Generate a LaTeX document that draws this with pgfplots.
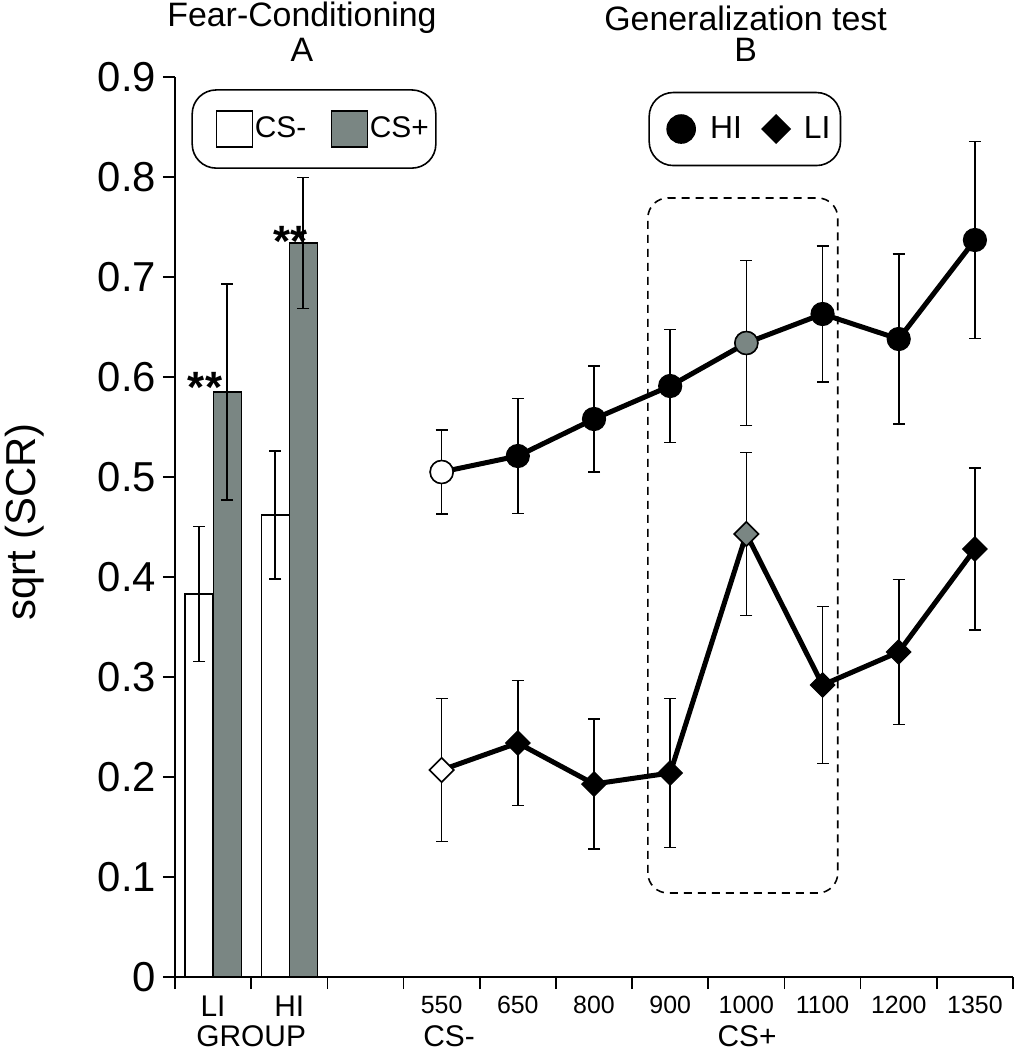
\documentclass[border=0pt]{standalone}
\usepackage{pgfplots}
\pgfplotsset{compat=1.18}
\usepackage{fontspec}
\setmainfont{Liberation Sans}
\definecolor{barg}{RGB}{122,134,131}
\pgfplotsset{myax/.style={width=419bp, height=450bp, scale only axis, xmin=-0.5, xmax=10.5, ymin=0, ymax=0.9, clip=false},
  myerr/.style={error bars/.cd, y dir=both, y explicit, error bar style={line width=0.8pt, black, draw=black, solid}, error mark options={line width=0.8pt, black, mark size=3bp, rotate=90}}}
\begin{document}
\begin{tikzpicture}
\useasboundingbox (-87.5bp,-36.5bp) rectangle (420.5bp,488.5bp);
\begin{axis}[myax,
  axis x line*=bottom, axis y line*=left,
  axis line style={line width=0.8pt},
  tick align=outside,
  ytick={0,0.1,0.2,0.3,0.4,0.5,0.6,0.7,0.8,0.9},
  yticklabel style={font=\fontsize{21}{21}\selectfont, /pgf/number format/.cd, fixed, precision=1, assume math mode=true},
  major tick length=6bp,
  minor tick length=6bp,
  xtick={0,1,2,3,4,5,6,7,8,9,10},
  xticklabels={{\fontsize{15}{15}\selectfont LI},{\fontsize{15}{15}\selectfont HI},,550,650,800,900,1000,1100,1200,1350},
  xticklabel style={font=\fontsize{12.5}{12.5}\selectfont, /pgf/number format/assume math mode=true},
  minor xtick={-0.5,0.5,1.5,2.5,3.5,4.5,5.5,6.5,7.5,8.5,9.5,10.5},
  tick style={line width=0.8pt, black},
  major x tick style={draw=none},
  legend style={at={(0.1659,0.9422)}, anchor=center, draw=black, line width=0.8pt, rounded corners=12bp,
    font=\fontsize{15}{15}\selectfont, inner xsep=2.5bp, inner ysep=10.25bp, nodes={inner xsep=1bp, inner ysep=0bp}},
  legend columns=2,
  legend cell align=left,
]
\addplot[ybar, bar width=14bp, bar shift=0pt, fill=white, draw=black, line width=0.6pt,
  legend image code/.code={\path[draw=none, fill=none] (-9.5bp,0bp) -- (0bp,0bp); \draw[sharp corners, fill=white,draw=black,line width=0.6pt] (0bp,-9bp) rectangle (18bp,9bp);}]
  coordinates {(-0.184,0.383) (0.816,0.462)};
\addlegendentry{CS-}
\addplot[ybar, bar width=14bp, bar shift=0pt, fill=barg, draw=black, line width=0.6pt,
  legend image code/.code={\path[draw=none, fill=none] (-11.5bp,0bp) -- (0bp,0bp); \draw[sharp corners, fill=barg,draw=black,line width=0.6pt] (0bp,-9bp) rectangle (18bp,9bp);}]
  coordinates {(0.184,0.585) (1.184,0.734)};
\addlegendentry{CS+}

\addplot[forget plot, draw=none, mark=none, myerr]
  coordinates {(-0.184,0.383) +- (0,0.0675) (0.816,0.462) +- (0,0.064)};
\addplot[forget plot, draw=none, mark=none, myerr]
  coordinates {(0.184,0.585) +- (0,0.108) (1.184,0.734) +- (0,0.0655)};

\node[font=\fontsize{22}{22}\selectfont\bfseries] at (axis cs:-0.106,0.590) {**};
\node[font=\fontsize{22}{22}\selectfont\bfseries] at (axis cs:1.022,0.736) {**};

\node[font=\fontsize{17}{17}\selectfont] at (axis cs:1.167,0.959) {Fear-Conditioning};
\node[font=\fontsize{17}{17}\selectfont] at (axis cs:1.167,0.927) {A};
\node[font=\fontsize{17}{17}\selectfont] at (axis cs:6.99,0.959) {Generalization test};
\node[font=\fontsize{17}{17}\selectfont] at (axis cs:6.99,0.927) {B};

\node[font=\fontsize{15}{15}\selectfont] at (axis cs:0.5,-0.059) {GROUP};
\node[font=\fontsize{15}{15}\selectfont, anchor=west, inner sep=0pt] at (axis cs:2.755,-0.059) {CS-};
\node[font=\fontsize{15}{15}\selectfont] at (axis cs:7.01,-0.059) {CS+};
\node[font=\fontsize{21}{21}\selectfont, rotate=90] at (axis cs:-2.47,0.455) {sqrt (SCR)};
\end{axis}

\begin{axis}[myax, hide axis,
  legend style={at={(0.680,0.9422)}, anchor=center, draw=black, line width=0.8pt, rounded corners=12bp,
    font=\fontsize{16}{16}\selectfont, inner xsep=4bp, inner ysep=11.25bp, nodes={inner xsep=1bp, inner ysep=0bp}},
  legend columns=2,
]
\addlegendimage{legend image code/.code={\path[draw=none, fill=none] (-5bp,0bp) -- (0bp,0bp); \draw[sharp corners, only marks, mark=*, mark size=7bp, black] plot coordinates {(7bp,0bp)};}}
\addlegendentry{\hspace{6.5bp}HI}
\addlegendimage{legend image code/.code={\path[draw=none, fill=none] (-9bp,0bp) -- (0bp,0bp); \draw[sharp corners, only marks, mark=square*, mark options={rotate=45}, mark size=4.9bp, black] plot coordinates {(7bp,0bp)};}}
\addlegendentry{\hspace{6bp}LI}

% error bars
\addplot[forget plot, draw=none, mark=none, myerr]
  coordinates {(3,0.505) +- (0,0.042) (4,0.521) +- (0,0.0575) (5,0.558) +- (0,0.053) (6,0.591) +- (0,0.0565)
  (7,0.634) +- (0,0.0825) (8,0.663) +- (0,0.068) (9,0.638) +- (0,0.085) (10,0.737) +- (0,0.0985)};
\addplot[forget plot, draw=none, mark=none, myerr]
  coordinates {(3,0.207) +- (0,0.0715) (4,0.234) +- (0,0.0625) (5,0.193) +- (0,0.065) (6,0.204) +- (0,0.0745)
  (7,0.443) +- (0,0.0815) (8,0.292) +- (0,0.0785) (9,0.325) +- (0,0.0725) (10,0.428) +- (0,0.081)};

% HI line
\addplot[forget plot, black, line width=2.5bp, mark=*, mark size=5.75bp, mark options={solid, fill=black, line width=0.6pt}]
  coordinates {(3,0.505) (4,0.521) (5,0.558) (6,0.591) (7,0.634) (8,0.663) (9,0.638) (10,0.737)};
\addplot[forget plot, only marks, mark=*, mark size=5.75bp, mark options={fill=white, draw=black, line width=0.8pt}]
  coordinates {(3,0.505)};
\addplot[forget plot, only marks, mark=*, mark size=5.75bp, mark options={fill=barg, draw=black, line width=0.8pt}]
  coordinates {(7,0.634)};

% LI line
\addplot[forget plot, black, line width=2.5bp, mark=square*, mark size=4.3bp, mark options={solid, rotate=45, fill=black, line width=0.6pt}]
  coordinates {(3,0.207) (4,0.234) (5,0.193) (6,0.204) (7,0.443) (8,0.292) (9,0.325) (10,0.428)};
\addplot[forget plot, only marks, mark=square*, mark size=4.3bp, mark options={rotate=45, fill=white, draw=black, line width=0.8pt}]
  coordinates {(3,0.207)};
\addplot[forget plot, only marks, mark=square*, mark size=4.3bp, mark options={rotate=45, fill=barg, draw=black, line width=0.8pt}]
  coordinates {(7,0.443)};

\draw[dash pattern=on 4bp off 3bp, line width=0.8pt, rounded corners=10bp] (axis cs:5.707,0.084) rectangle (axis cs:8.20,0.779);
\end{axis}
\end{tikzpicture}
\end{document}
